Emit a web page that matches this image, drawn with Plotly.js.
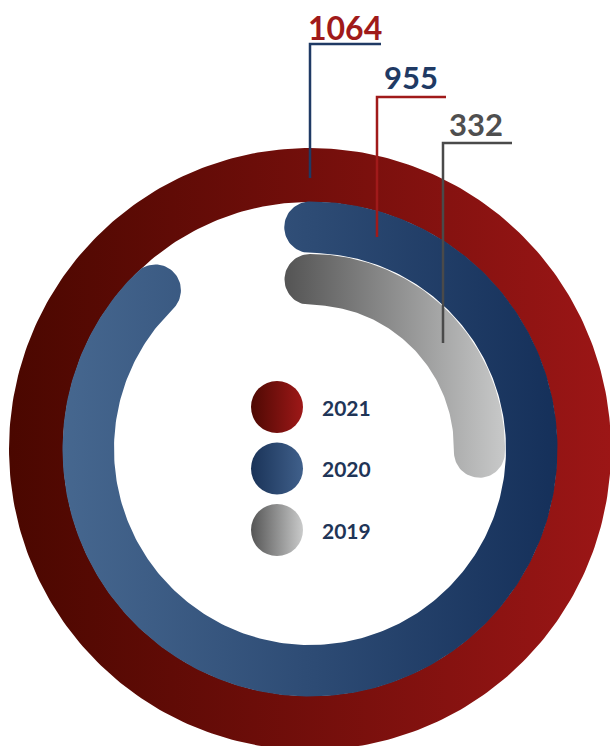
<!DOCTYPE html>
<html>
<head>
<meta charset="utf-8">
<script src="https://cdn.plot.ly/plotly-3.0.1.min.js"></script>
<style>html,body{margin:0;padding:0;background:#fff;}#chart{width:610px;height:746px;}</style>
</head>
<body>
<div id="chart"></div>
<script>
// ---- data ----
const years = ['2021', '2020', '2019'];
const totals = [1064, 955, 332];
// share of a full turn covered by each ring, as drawn in the picture
const arcShare = [1.0, 0.877, 0.253];

// ---- styles ----
const ringGrad = [
  ['#4a0700', '#9c1616'],
  ['#46678f', '#15305a'],
  ['#545454', '#c8c9c9']
];
const dotGrad = [
  ['#4e0903', '#9e1818'],
  ['#1a3358', '#40608b'],
  ['#555555', '#c9caca']
];
const labelColor = ['#a01a1a', '#1f3a64', '#4f4f4f'];
const leaderColor = ['#1f3a64', '#a01a1a', '#4a4a4a'];

// ---- geometry (pixel space) ----
const W = 610, H = 746;
const cx = 310, cy = 449;
const rings = [ {r0: 247, r1: 301}, {r0: 196, r1: 247.5}, {r0: 144, r1: 195} ];

function pt(r, th) { return [cx + r * Math.sin(th), cy - r * Math.cos(th)]; }

function ringPath(r0, r1, share) {
  const xs = [], ys = [];
  const push = p => { xs.push(p[0]); ys.push(p[1]); };
  const N = 360;
  if (share >= 0.999) {
    for (let i = 0; i <= N; i++) push(pt(r1, 2 * Math.PI * i / N));
    for (let i = N; i >= 0; i--) push(pt(r0, 2 * Math.PI * i / N));
    return {xs, ys};
  }
  const te = 2 * Math.PI * share;
  const rm = (r0 + r1) / 2, w = (r1 - r0) / 2;
  const n = Math.max(20, Math.round(N * share));
  for (let i = 0; i <= n; i++) push(pt(r1, te * i / n));
  // end cap
  let c = pt(rm, te), u = [Math.sin(te), -Math.cos(te)], t = [Math.cos(te), Math.sin(te)];
  for (let k = 1; k < 40; k++) {
    const f = Math.PI * k / 40;
    push([c[0] + w * (u[0] * Math.cos(f) + t[0] * Math.sin(f)), c[1] + w * (u[1] * Math.cos(f) + t[1] * Math.sin(f))]);
  }
  for (let i = n; i >= 0; i--) push(pt(r0, te * i / n));
  // start cap
  c = pt(rm, 0); u = [0, -1]; t = [1, 0];
  for (let k = 1; k < 40; k++) {
    const f = Math.PI * k / 40;
    push([c[0] + w * (-u[0] * Math.cos(f) - t[0] * Math.sin(f)), c[1] + w * (-u[1] * Math.cos(f) - t[1] * Math.sin(f))]);
  }
  push(pt(r1, 0));
  return {xs, ys};
}

const traces = [];
years.forEach((y, i) => {
  const g = ringPath(rings[i].r0, rings[i].r1, arcShare[i]);
  const minX = Math.min(...g.xs), maxX = Math.max(...g.xs);
  traces.push({
    type: 'scatter', mode: 'lines', x: g.xs, y: g.ys,
    fill: 'toself', line: {width: 0, color: 'rgba(0,0,0,0)'},
    fillgradient: {type: 'horizontal', start: minX, stop: maxX,
      colorscale: [[0, ringGrad[i][0]], [1, ringGrad[i][1]]]},
    hoverinfo: 'skip', name: y
  });
});

// legend dots
const dotX = 277, dotY0 = 407, dotStep = 61.5;
traces.push({
  type: 'scatter', mode: 'markers',
  x: years.map(() => dotX), y: years.map((_, i) => dotY0 + i * dotStep),
  marker: {size: 52, color: dotGrad.map(d => d[0]), line: {width: 0},
    gradient: {type: 'horizontal', color: dotGrad.map(d => d[1])}},
  hoverinfo: 'skip'
});

const annotations = years.map((y, i) => ({
  x: 320, y: dotY0 + i * dotStep, xref: 'x', yref: 'y', xanchor: 'left', yanchor: 'middle',
  text: '<b>' + y + '</b>', showarrow: false,
  font: {family: 'Lato, sans-serif', size: 21, color: '#1f3557'}
}));

// value labels with leader lines
const leaders = [
  {tx: 306, ty: 27, hx0: 310, hx1: 381, hy: 44, vy1: 178, size: 32},
  {tx: 382, ty: 77, hx0: 377, hx1: 446, hy: 97, vy1: 237, size: 31},
  {tx: 447, ty: 124, hx0: 443, hx1: 512, hy: 143, vy1: 343, size: 31}
];
const shapes = [];
totals.forEach((v, i) => {
  const L = leaders[i];
  annotations.push({
    x: L.tx, y: L.ty, xref: 'x', yref: 'y', xanchor: 'left', yanchor: 'middle',
    text: '<b>' + v + '</b>', showarrow: false,
    font: {family: 'Lato, sans-serif', size: L.size, color: labelColor[i]}
  });
  shapes.push({type: 'path', xref: 'x', yref: 'y',
    path: `M${L.hx1},${L.hy} L${L.hx0},${L.hy} L${L.hx0},${L.vy1}`,
    line: {color: leaderColor[i], width: 2.5}});
});

const layout = {
  width: W, height: H, margin: {l: 0, r: 0, t: 0, b: 0},
  paper_bgcolor: '#ffffff', plot_bgcolor: '#ffffff', showlegend: false,
  xaxis: {range: [0, W], visible: false, fixedrange: true},
  yaxis: {range: [H, 0], visible: false, fixedrange: true},
  annotations, shapes
};
Plotly.newPlot('chart', traces, layout, {staticPlot: true, displayModeBar: false});
</script>
</body>
</html>
